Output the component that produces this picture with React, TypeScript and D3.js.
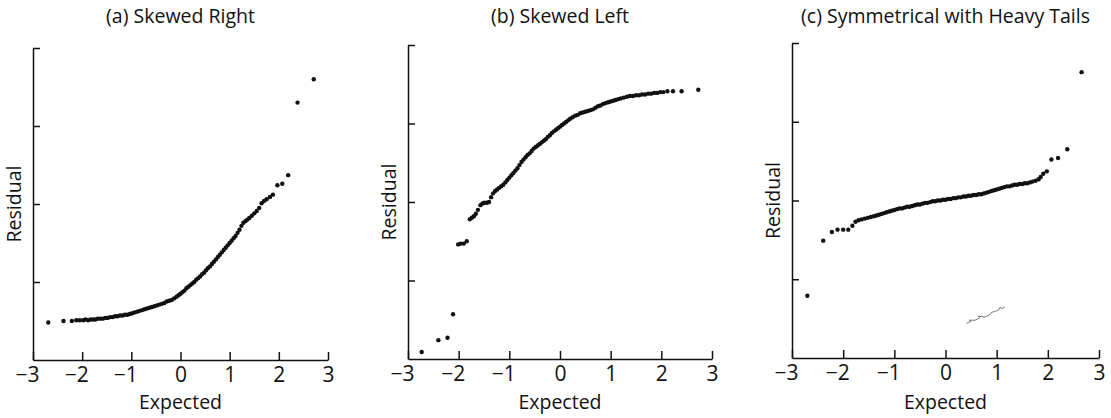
import * as d3 from 'd3';
import { useEffect, useRef } from 'react';

type Pt = [number, number];

const titles = ['(a) Skewed Right', '(b) Skewed Left', '(c) Symmetrical with Heavy Tails'];
const xTicks = [-3, -2, -1, 0, 1, 2, 3];
const yTicks = [1, 2, 3, 4];

// [expected, residual]
const skewedRight: Pt[] = [
    [-2.69, 0.48], [-2.38, 0.50], [-2.21, 0.50], [-2.12, 0.51], [-2.05, 0.51], [-1.98, 0.51], [-1.93, 0.52],
    [-1.88, 0.51], [-1.83, 0.52], [-1.78, 0.52], [-1.73, 0.52], [-1.68, 0.53], [-1.63, 0.53], [-1.58, 0.53],
    [-1.53, 0.54], [-1.48, 0.54], [-1.43, 0.55], [-1.38, 0.55], [-1.33, 0.56], [-1.28, 0.56], [-1.23, 0.57],
    [-1.18, 0.57], [-1.13, 0.58], [-1.08, 0.58], [-1.03, 0.59], [-0.98, 0.60], [-0.93, 0.61], [-0.88, 0.62],
    [-0.83, 0.63], [-0.78, 0.64], [-0.73, 0.65], [-0.68, 0.66], [-0.63, 0.67], [-0.58, 0.68], [-0.53, 0.69],
    [-0.48, 0.70], [-0.43, 0.71], [-0.38, 0.72], [-0.33, 0.73], [-0.28, 0.75], [-0.23, 0.76], [-0.18, 0.77],
    [-0.13, 0.79], [-0.08, 0.81], [-0.04, 0.83], [0.00, 0.85], [0.04, 0.87], [0.08, 0.89], [0.12, 0.92],
    [0.16, 0.94], [0.20, 0.96], [0.24, 0.98], [0.28, 1.00], [0.32, 1.03], [0.36, 1.05], [0.40, 1.07],
    [0.44, 1.10], [0.48, 1.12], [0.52, 1.15], [0.56, 1.18], [0.60, 1.20], [0.64, 1.23], [0.68, 1.26],
    [0.72, 1.29], [0.76, 1.32], [0.80, 1.35], [0.84, 1.38], [0.88, 1.41], [0.92, 1.44], [0.96, 1.47],
    [1.00, 1.50], [1.04, 1.53], [1.08, 1.56], [1.12, 1.59], [1.16, 1.63], [1.20, 1.67], [1.24, 1.72],
    [1.28, 1.76], [1.32, 1.78], [1.36, 1.80], [1.40, 1.82], [1.45, 1.85], [1.50, 1.88], [1.55, 1.91],
    [1.60, 1.95], [1.65, 2.01], [1.70, 2.04], [1.75, 2.06], [1.82, 2.09], [1.88, 2.12], [1.97, 2.24],
    [2.07, 2.26], [2.19, 2.37], [2.38, 3.30], [2.71, 3.60],
];

const skewedLeft: Pt[] = [
    [-2.73, 0.09], [-2.40, 0.24], [-2.22, 0.27], [-2.11, 0.57], [-2.01, 1.46], [-1.96, 1.47], [-1.90, 1.47],
    [-1.84, 1.50], [-1.78, 1.78], [-1.74, 1.80], [-1.70, 1.82], [-1.66, 1.85], [-1.62, 1.90], [-1.57, 1.96],
    [-1.53, 1.98], [-1.49, 1.99], [-1.44, 1.99], [-1.40, 2.00], [-1.36, 2.06], [-1.32, 2.11], [-1.28, 2.14],
    [-1.24, 2.16], [-1.20, 2.18], [-1.16, 2.20], [-1.12, 2.22], [-1.08, 2.25], [-1.04, 2.28], [-1.00, 2.31],
    [-0.96, 2.34], [-0.92, 2.37], [-0.88, 2.40], [-0.84, 2.43], [-0.80, 2.47], [-0.76, 2.51], [-0.72, 2.54],
    [-0.68, 2.57], [-0.64, 2.60], [-0.60, 2.62], [-0.56, 2.65], [-0.52, 2.68], [-0.48, 2.70], [-0.44, 2.72],
    [-0.40, 2.74], [-0.36, 2.76], [-0.32, 2.78], [-0.28, 2.80], [-0.24, 2.83], [-0.20, 2.85], [-0.16, 2.88],
    [-0.12, 2.90], [-0.08, 2.92], [-0.04, 2.94], [0.00, 2.96], [0.04, 2.98], [0.08, 3.00], [0.12, 3.02],
    [0.16, 3.04], [0.20, 3.06], [0.25, 3.08], [0.30, 3.10], [0.35, 3.11], [0.40, 3.13], [0.45, 3.14],
    [0.50, 3.15], [0.55, 3.16], [0.60, 3.17], [0.65, 3.18], [0.70, 3.20], [0.75, 3.22], [0.80, 3.23],
    [0.85, 3.25], [0.90, 3.26], [0.95, 3.27], [1.00, 3.28], [1.05, 3.29], [1.10, 3.30], [1.15, 3.31],
    [1.20, 3.32], [1.26, 3.33], [1.32, 3.34], [1.38, 3.35], [1.44, 3.35], [1.50, 3.36], [1.56, 3.36],
    [1.62, 3.37], [1.68, 3.37], [1.74, 3.38], [1.80, 3.38], [1.86, 3.39], [1.92, 3.39], [1.98, 3.40],
    [2.04, 3.40], [2.12, 3.41], [2.23, 3.41], [2.40, 3.41], [2.73, 3.43],
];

const heavyTails: Pt[] = [
    [-2.70, 0.79], [-2.39, 1.49], [-2.22, 1.60], [-2.11, 1.63], [-2.00, 1.63], [-1.90, 1.63], [-1.82, 1.68],
    [-1.76, 1.73], [-1.70, 1.75], [-1.64, 1.76], [-1.58, 1.77], [-1.52, 1.78], [-1.46, 1.79], [-1.40, 1.80],
    [-1.35, 1.81], [-1.30, 1.82], [-1.25, 1.83], [-1.20, 1.84], [-1.15, 1.85], [-1.10, 1.86], [-1.05, 1.87],
    [-1.00, 1.88], [-0.95, 1.89], [-0.90, 1.90], [-0.85, 1.90], [-0.80, 1.91], [-0.75, 1.92], [-0.70, 1.92],
    [-0.65, 1.93], [-0.60, 1.94], [-0.55, 1.95], [-0.50, 1.95], [-0.45, 1.96], [-0.40, 1.97], [-0.35, 1.97],
    [-0.30, 1.98], [-0.25, 1.99], [-0.20, 1.99], [-0.15, 2.00], [-0.10, 2.00], [-0.05, 2.01], [0.00, 2.01],
    [0.05, 2.02], [0.10, 2.02], [0.15, 2.03], [0.20, 2.03], [0.25, 2.04], [0.30, 2.04], [0.35, 2.05],
    [0.40, 2.05], [0.45, 2.06], [0.50, 2.06], [0.55, 2.07], [0.60, 2.07], [0.65, 2.08], [0.70, 2.08],
    [0.75, 2.09], [0.80, 2.10], [0.85, 2.11], [0.90, 2.12], [0.95, 2.13], [1.00, 2.14], [1.05, 2.15],
    [1.10, 2.16], [1.15, 2.17], [1.20, 2.18], [1.25, 2.18], [1.30, 2.19], [1.35, 2.20], [1.40, 2.20],
    [1.45, 2.21], [1.50, 2.21], [1.55, 2.22], [1.60, 2.22], [1.65, 2.23], [1.70, 2.24], [1.76, 2.25],
    [1.82, 2.27], [1.86, 2.30], [1.91, 2.34], [1.98, 2.37], [2.07, 2.52], [2.20, 2.54], [2.38, 2.65],
    [2.66, 3.63],
];

// stray pen mark in panel (c)
const scribble: Pt[] = [
    [0.41, 0.44], [0.50, 0.47], [0.47, 0.48], [0.58, 0.48], [0.67, 0.51], [0.64, 0.53], [0.77, 0.52],
    [0.87, 0.55], [0.90, 0.58], [0.96, 0.59], [1.04, 0.61], [1.06, 0.64], [1.12, 0.63], [1.16, 0.65],
];

const panels = [
    { data: skewedRight, left: 33, right: 328, top: 48, bottom: 360 },
    { data: skewedLeft, left: 408, right: 712, top: 45, bottom: 359 },
    { data: heavyTails, left: 792, right: 1099, top: 43, bottom: 358 },
];

export default function App() {
    const ref = useRef<SVGSVGElement | null>(null);

    useEffect(() => {
        const svg = d3.select(ref.current);
        svg.selectAll('*').remove();
        const font = '"Open Sans", sans-serif';

        panels.forEach((p, i) => {
            const x = d3.scaleLinear().domain([-3, 3]).range([p.left, p.right]);
            const y = d3.scaleLinear().domain([0, 4]).range([p.bottom, p.top]);
            const g = svg.append('g');

            g.append('text')
                .attr('x', (p.left + p.right) / 2)
                .attr('y', 23)
                .attr('text-anchor', 'middle')
                .attr('font-family', font)
                .attr('font-size', 19.5)
                .attr('fill', '#111')
                .text(titles[i]);

            const ya = g.append('g')
                .attr('transform', `translate(${p.left},0)`)
                .call(d3.axisLeft(y).tickValues(yTicks).tickSize(-7).tickSizeOuter(0).tickFormat(() => ''));
            ya.selectAll('path, line').attr('stroke', '#111').attr('stroke-width', 1.5);

            const xa = g.append('g')
                .attr('transform', `translate(0,${p.bottom})`)
                .call(d3.axisBottom(x).tickValues(xTicks).tickSize(-8).tickSizeOuter(0)
                    .tickFormat(d => (+d < 0 ? '\u2212' + Math.abs(+d) : String(d))));
            xa.selectAll('path, line').attr('stroke', '#111').attr('stroke-width', 1.5);
            xa.selectAll('text')
                .attr('y', 22)
                .attr('dy', null)
                .attr('x', 6)
                .attr('text-anchor', 'end')
                .attr('font-family', font)
                .attr('font-size', 21)
                .attr('fill', '#111');

            g.append('text')
                .attr('x', (p.left + p.right) / 2)
                .attr('y', 409)
                .attr('text-anchor', 'middle')
                .attr('font-family', font)
                .attr('font-size', 19.5)
                .attr('fill', '#111')
                .text('Expected');

            g.append('text')
                .attr('transform', `translate(${p.left - 12},${(p.top + p.bottom) / 2}) rotate(-90)`)
                .attr('text-anchor', 'middle')
                .attr('font-family', font)
                .attr('font-size', 19.5)
                .attr('fill', '#111')
                .text('Residual');

            g.append('g')
                .selectAll('circle')
                .data(p.data)
                .join('circle')
                .attr('cx', d => x(d[0]))
                .attr('cy', d => y(d[1]))
                .attr('r', 2.2)
                .attr('fill', '#111');

            if (i === 2) {
                g.append('path')
                    .datum(scribble)
                    .attr('fill', 'none')
                    .attr('stroke', '#555')
                    .attr('stroke-width', 0.8)
                    .attr('d', d3.line<Pt>().x(d => x(d[0])).y(d => y(d[1])));
            }
        });
    }, []);

    return <svg ref={ref} width={1111} height={418} style={{ position: 'absolute', left: 0, top: 0 }}></svg>;
}
